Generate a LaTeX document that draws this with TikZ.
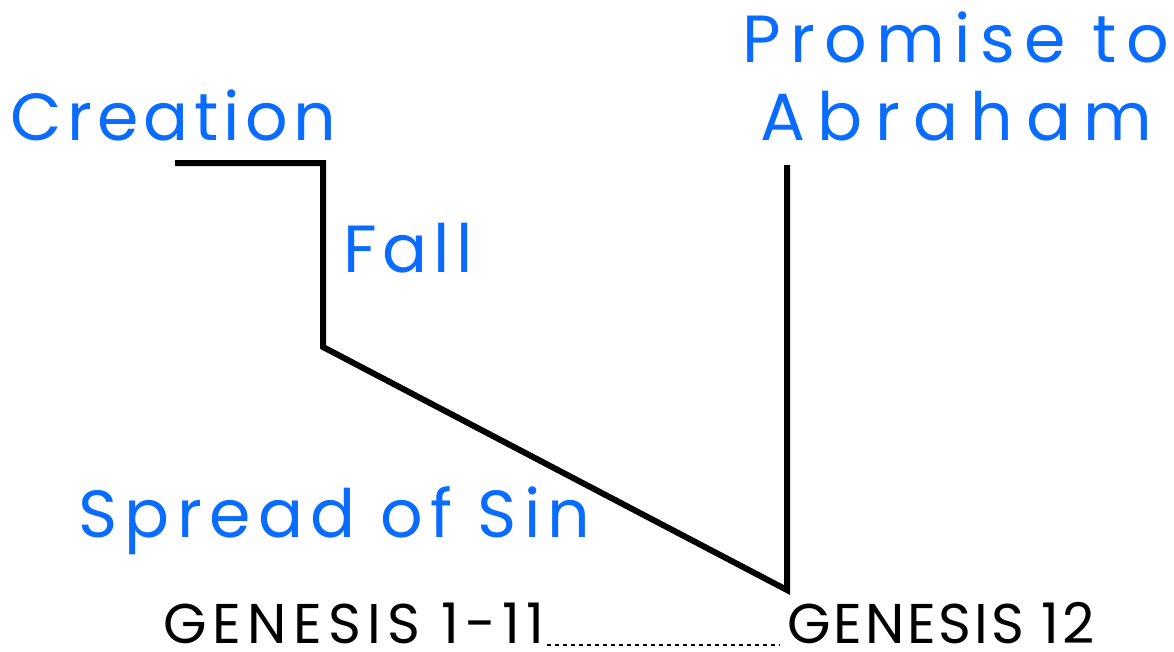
\documentclass[tikz,border=0pt]{standalone}
\usepackage{fontspec}
\setmainfont{Poppins}
\definecolor{tblue}{RGB}{10,108,255}
\begin{document}
\begin{tikzpicture}[x=0.75pt,y=-0.75pt,
  lbl/.style={anchor=base west,inner sep=0pt,text=tblue,font=\fontsize{50}{56}\selectfont\addfontfeature{LetterSpace=#1}},
  lbl/.default=14,
  gen/.style={anchor=base west,inner sep=0pt,text depth=0pt,text=black,font=\fontsize{42}{50}\selectfont\addfontfeature{LetterSpace=#1}},
  gen/.default=8,
  path/.style={line width=4.5pt,line join=miter}]
\useasboundingbox (0,0) rectangle (1174,651);
\coordinate (a) at (175,163);
\coordinate (b) at (323,163);
\coordinate (c) at (323,347);
\coordinate (d) at (787,590);
\coordinate (e) at (787,165);
\draw[path] (a) -- (b) -- (c) -- (d) -- (e);
\node[lbl=8] (creation) at (10,140) {Creation};
\node[lbl=9] (fall) at (343,272) {Fall};
\node[lbl=11] (spread) at (78,537) {Spread of Sin};
\node[lbl=14] (promise) at (742,62) {Promise to};
\node[lbl=19] (abraham) at (760,140) {Abraham};
\node[gen=11] (g1) at (163,643) {GENESIS 1-11};
\node[gen=5] (g2) at (787,643) {GENESIS 12};
\draw[line width=1.2pt,dash pattern=on 3.5pt off 2.5pt] (g1.base east) ++(2,2) -- ([xshift=-6,yshift=-1.5pt]g2.base west);
\end{tikzpicture}
\end{document}
